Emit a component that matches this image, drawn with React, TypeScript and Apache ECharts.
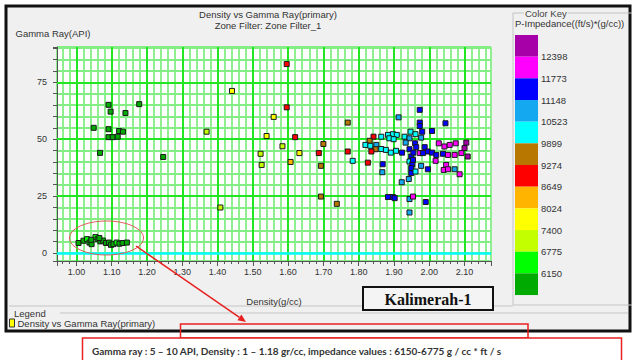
import React, { useEffect, useRef } from 'react';
import * as echarts from 'echarts';

const SERIES_NAME = 'Density vs Gamma Ray(primary)';
const TITLE = 'Density vs Gamma Ray(primary)';
const SUBTITLE = 'Zone Filter: Zone Filter_1';
const X_NAME = 'Density(g/cc)';
const Y_NAME = 'Gamma Ray(API)';
const KEY_TITLE = 'Color Key';
const KEY_SUBTITLE = 'P-Impedance((ft/s)*(g/cc))';
const WELL_NAME = 'Kalimerah-1';
const NOTE = 'Gamma ray : 5 \u2013 10 API, Density : 1 \u2013 1.18 gr/cc, impedance values : 6150-6775 g / cc * ft / s';

// P-impedance class boundaries (low -> high) and key colours (low -> high)
const IMPEDANCE_BREAKS = [6150, 6775, 7400, 8024, 8649, 9274, 9899, 10523, 11148, 11773, 12398];
const KEY_COLORS = ['#00aa00', '#00ff00', '#c4ff00', '#ffff00', '#ffb400', '#ff0000', '#b87800', '#00ffff', '#14a8f0', '#0000ff', '#ff00ff', '#a800a8'];

const MAJOR_Y = [25, 50, 75];
const ZERO_Y = [0];

// [density g/cc, gamma ray API, P-impedance]
const lowGrCluster: [number, number, number][] = [
  [1.006, 4.4, 6050], [1.020, 5.4, 6050], [1.030, 6.1, 6300], [1.037, 4.6, 6050], [1.043, 3.9, 6050],
  [1.054, 7.0, 6300], [1.060, 6.1, 6050], [1.068, 5.1, 6050], [1.075, 5.5, 6050], [1.084, 4.4, 6050],
  [1.092, 4.6, 6050], [1.098, 3.6, 6050], [1.105, 3.9, 6050], [1.114, 4.6, 6300], [1.122, 4.1, 6050],
  [1.131, 4.4, 6050], [1.143, 4.6, 6050], [1.042, 5.8, 6050], [1.065, 6.6, 6050],
];

const highGrLowDensity: [number, number, number][] = [
  [1.091, 65.1, 6000], [1.097, 62.1, 6000], [1.178, 65.4, 6000], [1.139, 61.5, 6000], [1.049, 55.0, 6000],
  [1.091, 54.4, 6000], [1.121, 53.6, 6000], [1.132, 53.3, 6000], [1.091, 50.9, 6000], [1.103, 50.9, 6000],
  [1.117, 51.1, 6000], [1.067, 44.0, 6000], [1.246, 42.2, 6000],
];

const midDensity: [number, number, number][] = [
  [1.596, 83.0, 8950], [1.441, 71.2, 7700], [1.596, 64.0, 8950], [1.559, 59.8, 7900], [1.769, 57.3, 9600],
  [1.369, 53.3, 7100], [1.539, 51.4, 7700], [1.620, 50.9, 8950], [1.700, 47.9, 9400], [1.584, 46.9, 7100],
  [1.522, 43.6, 7100], [1.632, 43.9, 7700], [1.687, 43.9, 8950], [1.769, 44.6, 8950], [1.525, 38.7, 7300],
  [1.607, 40.0, 8400], [1.693, 38.3, 9500], [1.693, 24.8, 9400], [1.738, 21.6, 9600], [1.408, 20.0, 7100],
];

const highDensity: [number, number, number][] = [
  [1.913, 59.6, 10800], [1.973, 62.9, 11450], [1.973, 57.3, 11450], [2.046, 57.0, 11450], [1.973, 55.8, 11450],
  [1.842, 51.1, 8950], [1.831, 49.3, 9600], [1.819, 47.5, 10200], [1.833, 47.1, 10200], [1.864, 51.1, 10200],
  [1.883, 51.9, 10200], [1.897, 52.2, 10200], [1.908, 51.9, 10200], [1.887, 50.4, 10200], [1.899, 50.0, 10200],
  [1.930, 51.1, 10200], [1.944, 50.4, 10800], [1.947, 53.3, 10200], [1.961, 52.2, 10200], [1.980, 53.3, 11450],
  [1.977, 50.7, 10800], [2.008, 53.6, 11450], [1.933, 48.5, 10800], [1.960, 48.2, 11450], [1.850, 47.5, 10800],
  [1.848, 45.6, 9600], [1.864, 45.7, 10200], [1.836, 44.6, 8950], [1.877, 45.3, 10200], [1.891, 44.1, 10200],
  [1.906, 44.9, 10200], [1.923, 44.1, 11450], [1.944, 45.6, 11450], [1.963, 46.5, 11450], [1.987, 46.5, 11450],
  [1.996, 44.6, 11450], [1.973, 43.9, 12100], [1.982, 43.9, 11450], [2.008, 44.1, 11450], [2.027, 48.2, 12100],
  [2.043, 46.8, 12100], [2.058, 47.5, 12100], [2.075, 48.2, 12100], [2.105, 48.5, 12700], [2.100, 46.1, 12700],
  [2.039, 43.6, 11450], [2.053, 43.1, 12100], [2.072, 43.1, 12100], [2.091, 43.9, 12100], [2.109, 42.4, 12700],
  [2.020, 43.1, 11450], [2.018, 40.5, 12100], [1.783, 40.5, 10200], [1.826, 39.7, 8950], [1.868, 39.0, 11450],
  [1.949, 42.4, 11450], [1.944, 40.2, 10200], [1.952, 39.0, 11450], [1.949, 37.3, 11450], [1.949, 35.1, 11450],
  [1.961, 35.8, 10200], [1.977, 38.3, 10800], [1.996, 36.8, 11450], [2.048, 38.7, 12100], [2.041, 36.5, 12100],
  [2.053, 36.8, 12100], [2.072, 36.8, 10800], [2.086, 34.6, 12100], [1.867, 35.5, 10800], [1.942, 32.5, 10800],
  [1.922, 31.1, 10800], [1.883, 24.6, 11450], [1.897, 24.6, 11450], [1.902, 24.1, 11450], [1.944, 23.7, 10800],
  [1.954, 24.8, 12100], [1.990, 22.4, 11450], [1.944, 17.8, 10800], [1.955, 44.1, 11450], [1.954, 40.9, 11450],
];

const FONT = '"Liberation Sans", Arial, sans-serif';

function App() {
  const ref = useRef<HTMLDivElement>(null);

  useEffect(() => {
    document.body.style.margin = '0';
    if (!ref.current) return;
    const chart = echarts.init(ref.current, undefined, { renderer: 'svg' });

    const pieces = KEY_COLORS.map((color, i) => {
      const p: any = { color };
      if (i > 0) p.gte = IMPEDANCE_BREAKS[i - 1];
      if (i < IMPEDANCE_BREAKS.length) p.lt = IMPEDANCE_BREAKS[i];
      return p;
    });

    const keyTop = 35;
    const keyItemH = 21.67;
    const keyLabels = IMPEDANCE_BREAKS.slice().reverse().map((v, k) => ({
      type: 'text',
      z: 50,
      style: {
        text: String(v), x: 541, y: keyTop + keyItemH * (k + 1),
        fontSize: 9.5, fontFamily: FONT, fill: '#333', align: 'left', verticalAlign: 'middle',
      },
    }));

    const allPoints = [...lowGrCluster, ...highGrLowDensity, ...midDensity, ...highDensity];

    const isMult = (v: number, step: number) => Math.abs(v / step - Math.round(v / step)) < 1e-6;

    const tip = [246, 322];
    const arrowFrom = [136, 246];
    const dx = tip[0] - arrowFrom[0];
    const dy = tip[1] - arrowFrom[1];
    const len = Math.sqrt(dx * dx + dy * dy);
    const ux = dx / len, uy = dy / len;
    const bx = tip[0] - 8 * ux, by = tip[1] - 8 * uy;

    const option: any = {
      animation: false,
      backgroundColor: '#ffffff',
      textStyle: { fontFamily: FONT },
      grid: { left: 57, top: 47, width: 434, height: 214, show: true, backgroundColor: '#ffffff', borderWidth: 0 },
      legend: {
        data: [{ name: SERIES_NAME, itemStyle: { color: '#ffff00', borderColor: '#333', borderWidth: 1 } }],
        left: 9, top: 318, itemWidth: 5, itemHeight: 8, icon: 'rect', padding: 0, itemGap: 4,
        selectedMode: false,
        textStyle: { fontSize: 9.5, color: '#333', fontFamily: FONT, padding: [0, 0, 0, -2] },
      },
      visualMap: {
        type: 'piecewise', seriesIndex: 0, dimension: 2, pieces,
        orient: 'vertical', left: 515, top: keyTop, itemWidth: 23, itemHeight: keyItemH, itemGap: 0,
        itemSymbol: 'rect', showLabel: false, padding: 0, hoverLink: false, selectedMode: false,
      },
      xAxis: [
        {
          type: 'value', min: 0.945, max: 2.175, splitNumber: 12, position: 'bottom', z: 1,
          axisLine: { show: true, onZero: false, lineStyle: { color: '#555' } },
          axisTick: { show: true, length: 5, lineStyle: { color: '#555' } },
          axisLabel: { fontSize: 9, color: '#333', margin: 6, formatter: (v: number) => (isMult(v, 0.1) ? v.toFixed(2) : '') },
          splitLine: { show: true, showMinLine: false, showMaxLine: false, lineStyle: { color: '#22e622', width: 2 } },
          name: X_NAME, nameLocation: 'middle', nameGap: 35,
          nameTextStyle: { fontSize: 9.5, color: '#333', fontFamily: FONT },
        },
        {
          type: 'value', min: 0.945, max: 2.175, splitNumber: 61, position: 'bottom', z: 0,
          axisLine: { show: true, onZero: false, lineStyle: { color: '#555' } },
          axisTick: { show: true, length: 3, lineStyle: { color: '#555' } },
          axisLabel: { show: false },
          splitLine: { show: true, lineStyle: { color: '#84ee84', width: 1.8 } },
        },
      ],
      yAxis: {
        type: 'value', min: -3.5, max: 90.5, splitNumber: 19,
        axisLine: { show: true, onZero: false, lineStyle: { color: '#555' } },
        axisTick: { show: true, length: 4, lineStyle: { color: '#555' } },
        axisLabel: { fontSize: 9, color: '#333', margin: 10, formatter: (v: number) => (isMult(v, 25) ? String(Math.round(v)) : '') },
        splitLine: { show: true, lineStyle: { color: '#84ee84', width: 1.8 } },
        name: Y_NAME, nameLocation: 'end', nameGap: 9,
        nameTextStyle: { fontSize: 9.5, color: '#333', align: 'center', padding: [0, 8, 0, 0], fontFamily: FONT },
      },
      series: [
        {
          type: 'scatter', name: SERIES_NAME, data: allPoints, xAxisIndex: 0, yAxisIndex: 0,
          symbol: 'rect', symbolSize: 5, z: 3,
          itemStyle: { borderColor: '#1a1a1a', borderWidth: 1, opacity: 1 },
        },
        {
          type: 'scatter', name: 'grid-majors', data: [], xAxisIndex: 0, yAxisIndex: 0, z: 1, silent: true,
          markLine: {
            silent: true, z: 1, symbol: ['none', 'none'], label: { show: false },
            emphasis: { disabled: true },
            lineStyle: { type: 'solid' },
            data: [
              ...MAJOR_Y.map((v) => ({ yAxis: v, lineStyle: { color: '#22e622', width: 2, type: 'solid' } })),
              ...ZERO_Y.map((v) => ({ yAxis: v, lineStyle: { color: '#00ffff', width: 2.5, type: 'solid' } })),
            ],
          },
        },
      ],
      graphic: [
        // window frame
        { type: 'rect', z: -100, shape: { x: 6, y: 6, width: 624, height: 325 }, style: { fill: '#f0f0f0', stroke: '#111', lineWidth: 3 } },
        { type: 'text', z: 50, style: { text: TITLE, x: 268, y: 14, align: 'center', verticalAlign: 'middle', fontSize: 9.5, fontFamily: FONT, fill: '#333' } },
        { type: 'text', z: 50, style: { text: SUBTITLE, x: 268, y: 25, align: 'center', verticalAlign: 'middle', fontSize: 9.5, fontFamily: FONT, fill: '#333' } },
        // color key group box
        { type: 'rect', z: -50, shape: { x: 513, y: 13, width: 130, height: 292 }, style: { fill: 'none', stroke: '#c4c4c4', lineWidth: 1 } },
        { type: 'text', z: 50, style: { text: KEY_TITLE, x: 524, y: 13, align: 'left', verticalAlign: 'middle', fontSize: 9.5, fontFamily: FONT, fill: '#444', backgroundColor: '#f0f0f0', padding: [0, 1] } },
        { type: 'text', z: 50, style: { text: KEY_SUBTITLE, x: 515, y: 23, align: 'left', verticalAlign: 'middle', fontSize: 9.5, fontFamily: FONT, fill: '#333' } },
        ...keyLabels,
        // legend group box
        { type: 'line', z: -50, shape: { x1: 9, y1: 306, x2: 513, y2: 306 }, style: { stroke: '#c4c4c4', lineWidth: 1 } },
        { type: 'line', z: -50, shape: { x1: 60, y1: 313, x2: 628, y2: 313 }, style: { stroke: '#c4c4c4', lineWidth: 1 } },
        { type: 'text', z: 50, style: { text: 'Legend', x: 14, y: 313, align: 'left', verticalAlign: 'middle', fontSize: 9.5, fontFamily: FONT, fill: '#333' } },
        // well name box
        { type: 'rect', z: 50, shape: { x: 363, y: 287, width: 130, height: 23 }, style: { fill: '#f4f4f4', stroke: '#111', lineWidth: 2 } },
        { type: 'text', z: 51, style: { text: WELL_NAME, x: 428, y: 299, align: 'center', verticalAlign: 'middle', fontSize: 16, fontWeight: 'bold', fontFamily: '"Liberation Serif", "Times New Roman", serif', fill: '#111' } },
        // annotation
        { type: 'ellipse', z: 60, shape: { cx: 106.5, cy: 238, rx: 37, ry: 17 }, style: { fill: 'none', stroke: '#e05a5a', lineWidth: 1 } },
        { type: 'line', z: 60, shape: { x1: arrowFrom[0], y1: arrowFrom[1], x2: bx, y2: by }, style: { stroke: '#e82020', lineWidth: 1.5 } },
        { type: 'polygon', z: 60, shape: { points: [[tip[0], tip[1]], [bx - 3.5 * uy, by + 3.5 * ux], [bx + 3.5 * uy, by - 3.5 * ux]] }, style: { fill: '#e82020' } },
        { type: 'rect', z: 60, shape: { x: 180.5, y: 324, width: 347.5, height: 14 }, style: { fill: 'none', stroke: '#e82020', lineWidth: 1.5 } },
        { type: 'rect', z: 61, shape: { x: 82.5, y: 338, width: 539, height: 30 }, style: { fill: '#ffffff', stroke: '#e82020', lineWidth: 1.5 } },
        { type: 'text', z: 62, style: { text: NOTE, x: 92, y: 351, align: 'left', verticalAlign: 'middle', fontSize: 10, fontWeight: 'bold', fontFamily: 'Lato, "Open Sans", sans-serif', fill: '#333' } },
      ],
    };

    chart.setOption(option);
    return () => chart.dispose();
  }, []);

  return <div ref={ref} style={{ position: 'fixed', left: 0, top: 0, width: 632, height: 360 }} />;
}

export default App;
